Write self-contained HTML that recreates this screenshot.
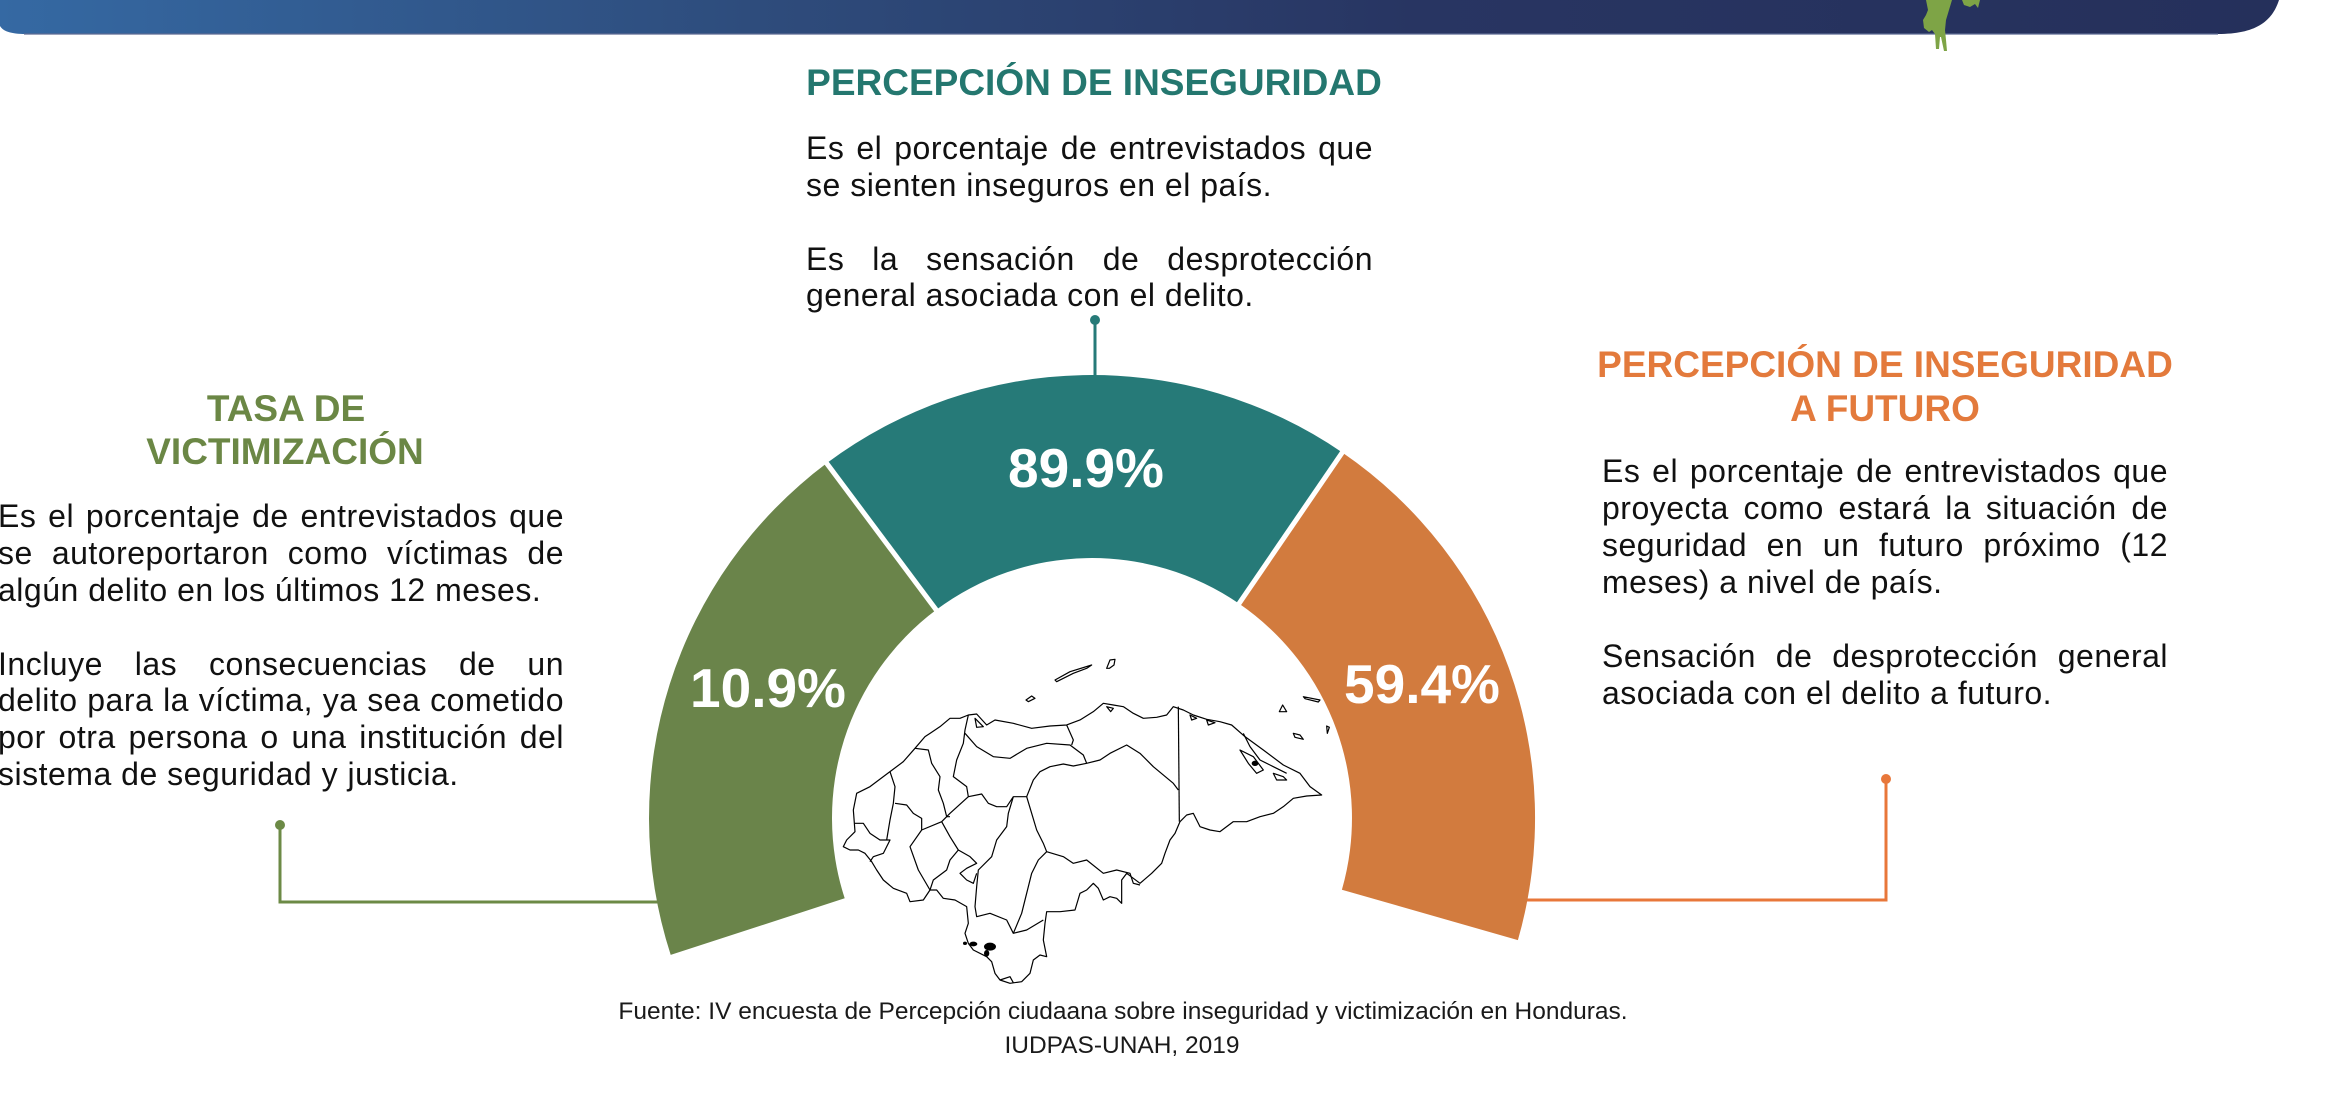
<!DOCTYPE html>
<html>
<head>
<meta charset="utf-8">
<style>
  html,body{margin:0;padding:0;background:#fff;}
  body{width:2336px;height:1102px;position:relative;overflow:hidden;font-family:"Liberation Sans",Arial,sans-serif;}
  svg{position:absolute;left:0;top:0;}
  .ln{position:absolute;height:37px;line-height:37px;font-size:32px;letter-spacing:0.5px;color:#111;white-space:nowrap;}
  .j{text-align:justify;text-align-last:justify;}
  .l{text-align:left;}
</style>
</head>
<body>
<svg width="2336" height="1102" viewBox="0 0 2336 1102" xmlns="http://www.w3.org/2000/svg">
  <defs>
    <linearGradient id="hg" x1="0" y1="0" x2="1" y2="0">
      <stop offset="0" stop-color="#3569a3"/>
      <stop offset="0.33" stop-color="#2e4c7c"/>
      <stop offset="0.62" stop-color="#283562"/>
      <stop offset="1" stop-color="#25305b"/>
    </linearGradient>
  </defs>
  <!-- header -->
  <path d="M0,0 H2279 C2272,22 2255,34 2218,34 H26 C10,34 3,31 0,26 Z" fill="url(#hg)"/>
  <path d="M24,34 H2218" stroke="#5d6b93" stroke-width="1.2" fill="none"/>
  <!-- green figure -->
  <path d="M1926,0 L1952,0 L1949,10 L1946,20 L1945,30 L1946,40 L1947,51 L1944,51 L1941,37 L1940,37 L1939,49 L1936,49 L1935,34 L1932,30 L1929,32 L1924,28 L1923,20 L1926,15 L1928,10 Z" fill="#7ea446"/>
  <path d="M1962,0 L1980,0 L1978,8 L1975,4 L1970,7 L1964,5 Z" fill="#7ea446"/>

  <!-- connectors -->
  <line x1="1095" y1="320" x2="1095" y2="382" stroke="#267a78" stroke-width="3"/>
  <circle cx="1095" cy="320" r="5" fill="#267a78"/>
  <polyline points="280,825 280,902 680,902" fill="none" stroke="#6c8a46" stroke-width="3"/>
  <circle cx="280" cy="825" r="5" fill="#6c8a46"/>
  <polyline points="1886,779 1886,900 1500,900" fill="none" stroke="#e8773a" stroke-width="3"/>
  <circle cx="1886" cy="779" r="5" fill="#e8773a"/>

  <!-- gauge segments -->
  <path d="M670.7,954.9 A443,443 0 0 1 826.6,463.3 L936.3,609.8 A260,260 0 0 0 844.7,898.3 Z" fill="#6a844a"/>
  <path d="M826.6,463.3 A443,443 0 0 1 1342.3,452.5 L1238.9,603.5 A260,260 0 0 0 936.3,609.8 Z" fill="#267a78"/>
  <path d="M1342.3,452.5 A443,443 0 0 1 1517.9,940.1 L1341.9,889.7 A260,260 0 0 0 1238.9,603.5 Z" fill="#d27b3e"/>
  <!-- separators -->
  <line x1="940" y1="615" x2="822" y2="457" stroke="#fff" stroke-width="5"/>
  <line x1="1236" y1="608" x2="1346" y2="447" stroke="#fff" stroke-width="5"/>

  <!-- values -->
  <g font-family="Liberation Sans, Arial, sans-serif" font-weight="bold" font-size="55" fill="#fff" text-anchor="middle">
    <text x="1086" y="487">89.9%</text>
    <text x="768" y="707">10.9%</text>
    <text x="1422" y="703">59.4%</text>
  </g>

  <!-- titles -->
  <g font-family="Liberation Sans, Arial, sans-serif" font-weight="bold" font-size="37" text-anchor="middle">
    <text x="1094" y="95" fill="#24776f">PERCEPCIÓN DE INSEGURIDAD</text>
    <text x="286" y="421" fill="#6b8745">TASA DE</text>
    <text x="285" y="464" fill="#6b8745">VICTIMIZACIÓN</text>
    <text x="1885" y="377" fill="#e37a3c">PERCEPCIÓN DE INSEGURIDAD</text>
    <text x="1885" y="421" fill="#e37a3c">A FUTURO</text>
  </g>

  <!-- map of Honduras (approximate) -->
  <g transform="translate(840,640) scale(0.33333)" fill="none" stroke="#000" stroke-width="3.6" stroke-linejoin="round">
    <path d="M10,620 L20,600 L45,575 L40,510 L50,460 L90,440 L150,395 L190,365 L225,325 L255,290 L270,280 L300,260 L330,235 L360,235 L385,225 L410,222 L440,255 L465,240 L520,250 L575,265 L630,258 L680,255 L720,240 L760,215 L790,190 L820,195 L850,200 L880,220 L910,235 L950,232 L980,225 L1000,200 L1030,210 L1060,225 L1100,238 L1140,245 L1175,255 L1215,290 L1270,330 L1330,375 L1380,400 L1410,440 L1445,465 L1400,468 L1360,475 L1330,500 L1300,520 L1260,530 L1220,545 L1180,545 L1140,575 L1110,570 L1080,560 L1060,520 L1040,525 L1020,545 L1005,580 L990,600 L975,640 L965,670 L935,700 L900,730 L880,715 L860,700 L845,720 L845,790 L830,775 L810,770 L790,780 L775,745 L760,730 L740,750 L720,760 L705,810 L660,815 L620,815 L615,850 L610,900 L620,950 L600,945 L580,960 L570,1000 L545,1025 L510,1030 L480,1020 L465,1000 L455,965 L440,950 L400,930 L385,910 L375,880 L385,850 L380,800 L345,780 L310,775 L290,750 L270,750 L250,780 L210,785 L200,760 L160,745 L130,720 L110,690 L95,665 L75,640 L55,630 L30,630 Z"/>
    <path d="M150,395 L165,440 L160,490 L150,540 L140,600"/>
    <path d="M225,325 L265,330 L275,370 L300,410 L295,450 L310,490 L320,530 L330,530"/>
    <path d="M385,225 L375,270 L370,310 L350,360 L340,410 L380,440 L385,470 L330,520 L305,545 L245,570 L210,620 L235,690 L270,750"/>
    <path d="M375,280 L410,320 L460,350 L510,355 L560,325 L620,310 L690,315 L730,345 L740,370"/>
    <path d="M680,255 L700,300 L695,315"/>
    <path d="M385,470 L425,462 L445,490 L470,500 L500,500 L520,470 L560,470 L580,420 L600,395 L630,380 L670,372 L700,378 L740,370 L780,360 L810,340 L860,315 L900,340 L940,380 L1000,430 L1015,450"/>
    <path d="M560,470 L575,520 L590,570 L610,610 L620,635 L670,650 L700,670 L740,660 L790,700 L830,690 L870,700 L880,730 L900,735"/>
    <path d="M620,635 L595,660 L575,700 L560,760 L545,820 L520,880"/>
    <path d="M520,470 L505,520 L500,560 L470,600 L455,650 L415,690 L410,740 L405,800 L410,830 L450,820 L500,840 L520,880 L560,870 L610,840"/>
    <path d="M305,545 L330,590 L355,630 L390,650 L410,670 L380,685 L360,700 L380,720 L400,730 L410,700"/>
    <path d="M355,630 L330,660 L320,690 L280,720 L270,750"/>
    <path d="M165,490 L200,495 L220,520 L245,535 L245,570"/>
    <path d="M45,550 L70,550 L90,580 L120,600 L150,600 L130,640 L100,650 L90,665"/>
    <path d="M1015,200 L1018,545"/>
    <path d="M1210,280 L1230,320 L1260,360 L1300,380 L1340,400"/>
    <path d="M645,120 L690,95 L755,75 L740,85 L700,100 L650,125 Z"/>
    <path d="M800,85 L810,60 L825,58 L822,75 L808,85 Z"/>
    <path d="M558,180 L575,168 L585,175 L565,185 Z"/>
    <path d="M1318,215 L1328,195 L1340,215 Z"/>
    <path d="M1390,170 L1440,180 L1435,186 L1395,176 Z"/>
    <path d="M1360,280 L1380,285 L1390,298 L1365,292 Z"/>
    <path d="M1460,258 L1468,262 L1462,280 Z"/>
    <path d="M1050,225 L1070,235 L1055,240 Z"/>
    <path d="M1100,240 L1125,248 L1105,255 Z"/>
    <path d="M1200,330 L1240,350 L1270,390 L1250,400 L1225,370 Z"/>
    <path d="M1300,400 L1330,410 L1340,420 L1310,420 Z"/>
    <path d="M800,200 L820,205 L812,215 Z"/>
    <path d="M405,235 L430,260 L410,262 Z"/>
    <path d="M480,1020 L510,1010 L520,1028"/>
  </g>
  <g transform="translate(840,640) scale(0.33333)" fill="#000">
    <ellipse cx="450" cy="920" rx="18" ry="12"/>
    <ellipse cx="440" cy="940" rx="8" ry="10"/>
    <ellipse cx="400" cy="912" rx="12" ry="7"/>
    <ellipse cx="375" cy="910" rx="6" ry="5"/>
    <ellipse cx="1245" cy="370" rx="10" ry="8"/>
  </g>

  <!-- footer -->
  <g font-family="Liberation Sans, Arial, sans-serif" font-size="24.5" fill="#1a1a1a" text-anchor="middle">
    <text x="1123" y="1019">Fuente: IV encuesta de Percepción ciudaana sobre inseguridad y victimización en Honduras.</text>
    <text x="1122" y="1053">IUDPAS-UNAH, 2019</text>
  </g>
</svg>

<!-- Left paragraph -->
<div class="ln j" style="left:-2px;top:498px;width:566px;">Es el porcentaje de entrevistados que</div>
<div class="ln j" style="left:-2px;top:535px;width:566px;">se autoreportaron como víctimas de</div>
<div class="ln l" style="left:-2px;top:572px;width:566px;">algún delito en los últimos 12 meses.</div>
<div class="ln j" style="left:-2px;top:646px;width:566px;">Incluye las consecuencias de un</div>
<div class="ln j" style="left:-2px;top:682px;width:566px;">delito para la víctima, ya sea cometido</div>
<div class="ln j" style="left:-2px;top:719px;width:566px;">por otra persona o una institución del</div>
<div class="ln l" style="left:-2px;top:756px;width:566px;">sistema de seguridad y justicia.</div>

<!-- Top paragraph -->
<div class="ln j" style="left:806px;top:130px;width:567px;">Es el porcentaje de entrevistados que</div>
<div class="ln l" style="left:806px;top:167px;width:567px;">se sienten inseguros en el país.</div>
<div class="ln j" style="left:806px;top:241px;width:567px;">Es la sensación de desprotección</div>
<div class="ln l" style="left:806px;top:277px;width:567px;">general asociada con el delito.</div>

<!-- Right paragraph -->
<div class="ln j" style="left:1602px;top:453px;width:566px;">Es el porcentaje de entrevistados que</div>
<div class="ln j" style="left:1602px;top:490px;width:566px;">proyecta como estará la situación de</div>
<div class="ln j" style="left:1602px;top:527px;width:566px;">seguridad en un futuro próximo (12</div>
<div class="ln l" style="left:1602px;top:564px;width:566px;">meses) a nivel de país.</div>
<div class="ln j" style="left:1602px;top:638px;width:566px;">Sensación de desprotección general</div>
<div class="ln l" style="left:1602px;top:675px;width:566px;">asociada con el delito a futuro.</div>
</body>
</html>
